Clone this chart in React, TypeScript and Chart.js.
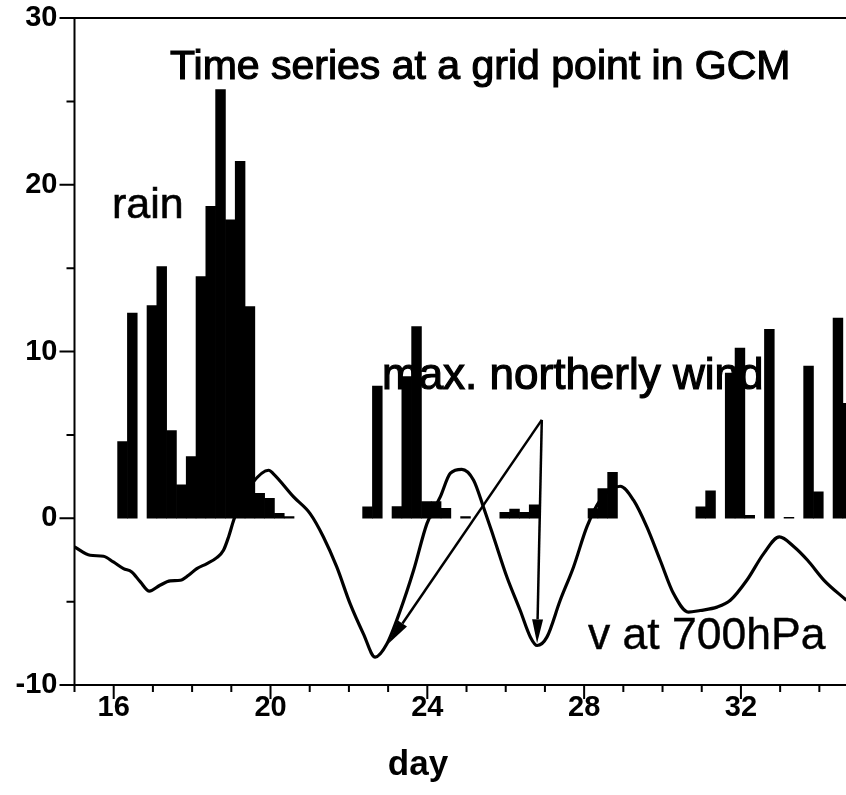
import React, { useEffect, useRef } from 'react';
import { Chart, registerables } from 'chart.js';

Chart.register(...registerables);

// Rain: 6-hourly accumulations on a regular time grid
const RAIN_START_DAY = 16.225;
const RAIN_STEP_DAY = 0.25;
const rainValues = [
  4.6, 12.3, 0, 12.75, 15.1, 5.26, 2.0, 3.7, 14.5, 18.7, 25.7, 17.9, 21.4, 12.7, 1.5, 1.2, 0.3, 0.1,
  0, 0, 0, 0, 0, 0, 0,
  0.68, 7.93, 0, 0.7, 8.5, 11.5, 1.0, 1.0, 0.6, 0, 0.1, 0, 0, 0,
  0.35, 0.55, 0.35, 0.8, 0, 0, 0, 0, 0,
  0.58, 1.78, 2.75, 0, 0, 0, 0, 0, 0, 0, 0,
  0.68, 1.64, 0, 8.7, 10.2, 0.18, 0, 11.33, 0, 0.05, 0, 9.13, 1.58, 0, 12.0, 6.89,
];

// Meridional wind v at 700hPa
const vDays = [
  15.0, 15.4, 15.74, 15.99, 16.25, 16.46, 16.68, 16.91, 17.18, 17.44, 17.7, 17.91, 18.12, 18.38,
  18.63, 18.8, 18.93, 19.06, 19.23, 19.53, 19.95, 20.08, 20.59, 21.01, 21.35, 21.69, 22.03, 22.37,
  22.67, 22.97, 23.31, 23.65, 23.99, 24.33, 24.59, 24.88, 25.18, 25.43, 25.69, 26.03, 26.37, 26.63,
  26.8, 27.05, 27.39, 27.73, 28.07, 28.41, 28.92, 29.26, 29.6, 29.94, 30.28, 30.66, 30.96, 31.39,
  31.73, 32.15, 32.58, 32.98, 33.36, 33.7, 34.12, 34.69,
];
const vWind = [
  -1.72, -2.22, -2.28, -2.62, -3.02, -3.22, -3.82, -4.37, -4.02, -3.76, -3.72, -3.42, -3.02, -2.72,
  -2.36, -1.92, -1.12, -0.12, 0.9, 2.1, 2.88, 2.65, 1.28, 0.28, -1.12, -2.92, -5.12, -6.93,
  -8.33, -7.53, -5.53, -3.12, -0.32, 1.28, 2.7, 2.93, 2.28, 0.68, -1.12, -3.52, -5.53, -7.13,
  -7.63, -7.13, -4.92, -2.92, -0.52, 1.08, 1.92, 1.08, -0.52, -2.52, -4.52, -5.63, -5.53, -5.33,
  -4.92, -3.72, -2.12, -1.12, -1.72, -2.52, -3.72, -4.92,
];

// Arrows from the "max. northerly wind" label to the two wind minima
const arrowFrom = [26.92, 5.9];
const arrowTips = [
  [26.8, -7.5],
  [23.02, -7.5],
];

const X_MIN = 15;
const X_MAX = 34.68;
const Y_MIN = -10;
const Y_MAX = 30;
const xLabelEvery = 4;
const yLabelEvery = 10;

const FONT = "'Liberation Sans', Arial, Helvetica, sans-serif";

const framePlugin = {
  id: 'frameAndNotes',
  afterDraw(chart: any) {
    const { ctx, chartArea, scales } = chart;
    const { left, right, top, bottom } = chartArea;
    const xs = scales.x;
    const ys = scales.y;
    ctx.save();
    ctx.strokeStyle = '#000';
    ctx.fillStyle = '#000';
    ctx.lineWidth = 2;
    ctx.lineCap = 'butt';

    // frame: top, left and bottom
    ctx.beginPath();
    ctx.moveTo(left, top);
    ctx.lineTo(right, top);
    ctx.moveTo(left, top - 1);
    ctx.lineTo(left, bottom + 1);
    ctx.moveTo(left, bottom);
    ctx.lineTo(right, bottom);

    // outward tick marks, long on labelled values
    xs.ticks.forEach((t: any) => {
      const px = xs.getPixelForValue(t.value);
      const len = t.value % xLabelEvery === 0 ? 14 : 7;
      ctx.moveTo(px, bottom);
      ctx.lineTo(px, bottom + len);
    });
    ys.ticks.forEach((t: any) => {
      const py = ys.getPixelForValue(t.value);
      const len = t.value % yLabelEvery === 0 ? 15 : 8;
      ctx.moveTo(left - len, py);
      ctx.lineTo(left, py);
    });
    ctx.stroke();

    // arrows
    const ax = xs.getPixelForValue(arrowFrom[0]);
    const ay = ys.getPixelForValue(arrowFrom[1]);
    ctx.lineWidth = 2.5;
    arrowTips.forEach(([d, v]) => {
      const tx = xs.getPixelForValue(d);
      const ty = ys.getPixelForValue(v);
      const ang = Math.atan2(ty - ay, tx - ax);
      const headLen = 24;
      const halfW = 5.5;
      const bx = tx - headLen * Math.cos(ang);
      const by = ty - headLen * Math.sin(ang);
      ctx.beginPath();
      ctx.moveTo(ax, ay);
      ctx.lineTo(bx, by);
      ctx.stroke();
      ctx.beginPath();
      ctx.moveTo(tx, ty);
      ctx.lineTo(bx + halfW * Math.sin(ang), by - halfW * Math.cos(ang));
      ctx.lineTo(bx - halfW * Math.sin(ang), by + halfW * Math.cos(ang));
      ctx.closePath();
      ctx.fill();
    });

    // annotations
    ctx.textAlign = 'left';
    ctx.textBaseline = 'alphabetic';
    ctx.font = `41px ${FONT}`;
    ctx.lineWidth = 1.2;
    ctx.fillText('Time series at a grid point in GCM', 170, 79);
    ctx.strokeText('Time series at a grid point in GCM', 170, 79);
    ctx.font = `43px ${FONT}`;
    ctx.lineWidth = 0.6;
    ctx.fillText('rain', 112, 218);
    ctx.strokeText('rain', 112, 218);
    ctx.font = `44px ${FONT}`;
    ctx.lineWidth = 1.2;
    ctx.fillText('max. northerly wind', 382, 389);
    ctx.strokeText('max. northerly wind', 382, 389);
    ctx.font = `44.5px ${FONT}`;
    ctx.lineWidth = 0.4;
    ctx.fillText('v at 700hPa', 588, 649);
    ctx.strokeText('v at 700hPa', 588, 649);
    ctx.textAlign = 'center';
    ctx.font = `bold 35px ${FONT}`;
    ctx.fillText('day', 418, 775);
    ctx.restore();
  },
};

export default function App() {
  const ref = useRef<HTMLCanvasElement>(null);

  useEffect(() => {
    const canvas = ref.current;
    if (!canvas) return;
    const chart = new Chart(canvas, {
      type: 'bar',
      data: {
        datasets: [
          {
            type: 'line',
            label: 'v at 700hPa',
            data: vDays.map((d, i) => ({ x: d, y: vWind[i] })),
            borderColor: '#000',
            borderWidth: 3.2,
            pointRadius: 0,
            cubicInterpolationMode: 'monotone',
            order: 0,
          } as any,
          {
            type: 'bar',
            label: 'rain',
            // dry intervals carry no bar at all
            data: rainValues.map((v, i) => ({ x: RAIN_START_DAY + RAIN_STEP_DAY * i, y: v === 0 ? null : v })),
            backgroundColor: '#000',
            borderWidth: 0,
            barPercentage: 1,
            categoryPercentage: 1,
            order: 1,
          } as any,
        ],
      },
      options: {
        responsive: false,
        animation: false,
        layout: { padding: { top: 18, left: 0, right: 0, bottom: 0 } },
        plugins: { legend: { display: false }, tooltip: { enabled: false }, title: { display: false } },
        scales: {
          x: {
            type: 'linear',
            min: X_MIN,
            max: X_MAX,
            offset: false,
            grid: { display: false, drawTicks: false, tickLength: 0, offset: false },
            border: { display: false },
            ticks: {
              stepSize: 1,
              includeBounds: false,
              autoSkip: false,
              maxRotation: 0,
              padding: 6,
              color: '#000',
              font: { family: FONT, size: 29, weight: 'bold' },
              callback: (v: any) => (Number(v) % xLabelEvery === 0 ? String(v) : ''),
            },
            afterFit: (s: any) => {
              s.height = 110;
              s.paddingLeft = 0;
              s.paddingRight = 0;
            },
          },
          y: {
            min: Y_MIN,
            max: Y_MAX,
            grid: { display: false, drawTicks: false, tickLength: 0 },
            border: { display: false },
            ticks: {
              stepSize: 5,
              autoSkip: false,
              padding: 17,
              color: '#000',
              font: { family: FONT, size: 29, weight: 'bold' },
              callback: (v: any) => (Number(v) % yLabelEvery === 0 ? String(v) : ''),
            },
            afterFit: (s: any) => {
              s.width = 74.5;
              s.paddingTop = 0;
              s.paddingBottom = 0;
            },
          },
        },
      },
      plugins: [framePlugin],
    } as any);
    return () => chart.destroy();
  }, []);

  return (
    <div style={{ position: 'absolute', left: 0, top: 0, width: 846, height: 795, background: '#fff' }}>
      <canvas ref={ref} width={846} height={795} style={{ width: 846, height: 795, display: 'block' }} />
    </div>
  );
}
